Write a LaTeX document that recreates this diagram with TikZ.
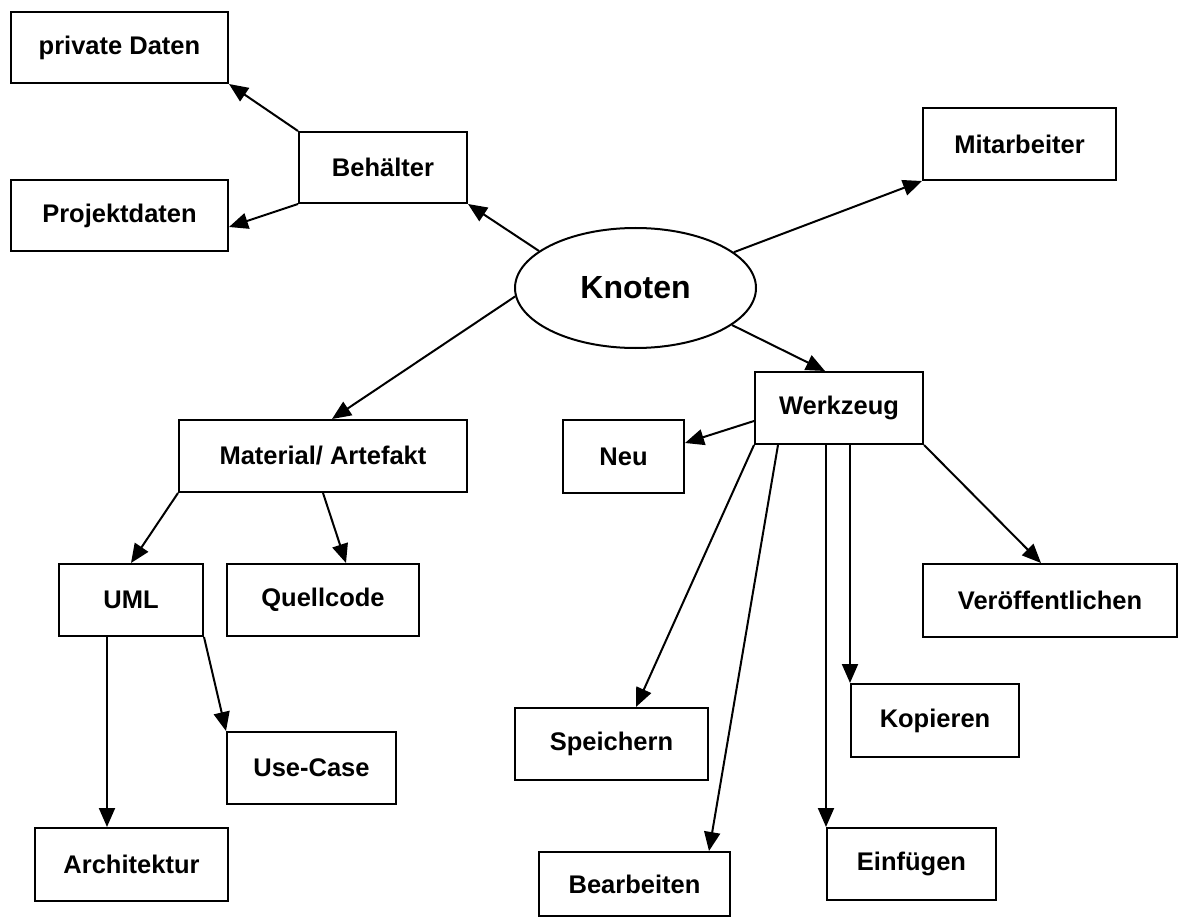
\documentclass[tikz,border=0pt]{standalone}
\usepackage{fontspec}
\setmainfont{Liberation Sans}
\usetikzlibrary{arrows.meta,shapes.geometric}
\begin{document}
\begin{tikzpicture}[x=1pt,y=-1pt,
  box/.style={draw,line width=2pt,inner sep=0pt,
    font=\fontsize{25.5}{30}\selectfont\bfseries},
  hub/.style={draw,ellipse,line width=2pt,inner sep=0pt,
    minimum width=241pt,minimum height=120pt,
    font=\fontsize{32}{36}\selectfont\bfseries},
  link/.style={line width=2pt,-{Triangle[length=19pt,width=16pt]}}]
\useasboundingbox[fill=white] (0,0) rectangle (1186,920);

% central concept
\node[hub] (kn) at (635.5,288) {Knoten};

% containers
\node[box,minimum width=168pt,minimum height=71pt] (beh)  at (383,167.5)  {Behälter};
\node[box,minimum width=217pt,minimum height=71pt] (priv) at (119.5,47.5) {private Daten};
\node[box,minimum width=217pt,minimum height=71pt] (proj) at (119.5,215.5) {Projektdaten};

% staff
\node[box,minimum width=193pt,minimum height=72pt] (mit) at (1019.5,144) {Mitarbeiter};

% materials
\node[box,minimum width=288pt,minimum height=72pt] (mat)   at (323,456)   {Material/ Artefakt};
\node[box,minimum width=144pt,minimum height=72pt] (uml)   at (131,600)   {UML};
\node[box,minimum width=192pt,minimum height=72pt] (quell) at (323,600)   {Quellcode};
\node[box,minimum width=169pt,minimum height=72pt] (uc)    at (311.5,768) {Use-Case};
\node[box,minimum width=193pt,minimum height=73pt] (arch)  at (131.5,864.5) {Architektur};

% tools
\node[box,minimum width=168pt,minimum height=72pt] (werk)   at (839,408)    {Werkzeug};
\node[box,minimum width=121pt,minimum height=73pt] (neu)    at (623.5,456.5) {Neu};
\node[box,minimum width=254pt,minimum height=73pt] (ver)    at (1050,600.5) {Veröffentlichen};
\node[box,minimum width=193pt,minimum height=72pt] (speich) at (611.5,744)  {Speichern};
\node[box,minimum width=168pt,minimum height=73pt] (kop)    at (935,720.5)  {Kopieren};
\node[box,minimum width=191pt,minimum height=64pt] (bear)   at (634.5,884)  {Bearbeiten};
\node[box,minimum width=169pt,minimum height=72pt] (einf)   at (911.5,864)  {Einfügen};

% connectors from the hub
\draw[link] (kn.159.5) -- (beh.south east);
\draw[link] (kn.20.5)  -- (mit.south west);
\draw[link] (kn.339.5) -- ([xshift=-14pt]werk.north);
\draw[link] (kn.184)   -- ([xshift=9pt]mat.north);

% containers
\draw[link] (beh.north west) -- (priv.south east);
\draw[link] (beh.south west) -- ([yshift=-11.5pt]proj.east);

% materials
\draw[link] (mat.south west) -- (uml.north);
\draw[link] (mat.south) -- ([xshift=23pt]quell.north);
\draw[link] ([xshift=-24pt]uml.south) -- ([xshift=-24pt]uml.south |- arch.north);
\draw[link] (uml.south east) -- (uc.north west);

% tools
\draw[link] ([yshift=-13pt]werk.west) -- ([yshift=13.5pt]neu.east);
\draw[link] (werk.south west) -- ([xshift=24.5pt]speich.north);
\draw[link] ([xshift=24pt]werk.south west) -- ([xshift=-22pt]bear.north east);
\draw[link] (einf.north west |- werk.south) -- (einf.north west);
\draw[link] (kop.north west |- werk.south) -- (kop.north west);
\draw[link] (werk.south east) -- ([xshift=-9pt]ver.north);
\end{tikzpicture}
\end{document}
